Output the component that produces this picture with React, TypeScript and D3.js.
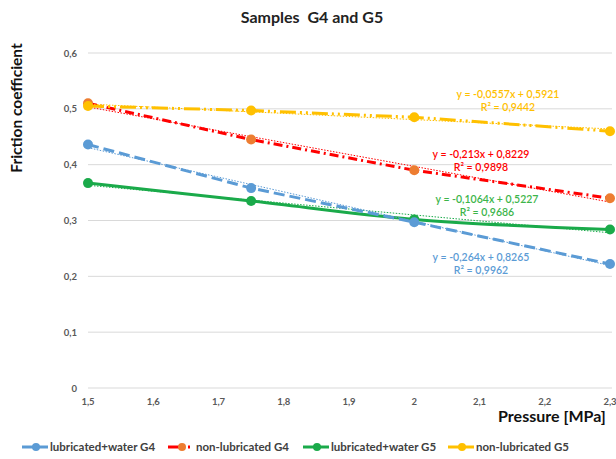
import React from "react";
import * as d3 from "d3";

const pressures = [1.5, 1.75, 2, 2.3];
const seriesNames = ["lubricated+water G4", "non-lubricated G4", "lubricated+water G5", "non-lubricated G5"];
const lubWaterG4 = [0.436, 0.358, 0.297, 0.222];
const nonLubG4 = [0.51, 0.445, 0.39, 0.34];
const lubWaterG5 = [0.367, 0.335, 0.302, 0.284];
const nonLubG5 = [0.505, 0.497, 0.485, 0.46];
const trendSlopes = [-0.264, -0.213, -0.1064, -0.0557];
const trendIntercepts = [0.8265, 0.8229, 0.5227, 0.5921];
const trendR2 = ["0,9962", "0,9898", "0,9686", "0,9442"];
const xTicks = [1.5, 1.6, 1.7, 1.8, 1.9, 2, 2.1, 2.2, 2.3];
const yTicks = [0, 0.1, 0.2, 0.3, 0.4, 0.5, 0.6];

const W = 616;
const H = 459;
const FONT = "Lato, 'Open Sans', sans-serif";

const lineColors = ["#5b9bd5", "#ff0000", "#1aaa4a", "#ffc000"];
const markerColors = ["#5b9bd5", "#ed7d31", "#1aaa4a", "#ffc000"];
const labelColors = ["#5b9bd5", "#ff0000", "#3cb54a", "#ffc000"];
const dashes = ["11 5", "9 4 2 4", "", "16 4 2 4 2 4"];
const labelPos = [
  { x: 481, y: 261 },
  { x: 481, y: 158 },
  { x: 487, y: 203 },
  { x: 508, y: 98 },
];
const legendX = [22, 168, 303, 448];

const fmt = (v: number) => String(v).replace(".", ",");

export default function App() {
  const x = d3.scaleLinear().domain([1.5, 2.3]).range([88, 610]);
  const y = d3.scaleLinear().domain([0, 0.6]).range([388, 53]);
  const data = [lubWaterG4, nonLubG4, lubWaterG5, nonLubG5];
  const straight = d3
    .line<number>()
    .x((_, i) => x(pressures[i]))
    .y((d) => y(d));
  const smooth = d3
    .line<number>()
    .x((_, i) => x(pressures[i]))
    .y((d) => y(d))
    .curve(d3.curveCatmullRom.alpha(0.5));

  const order = [2, 0, 1, 3];

  return (
    <div style={{ position: "absolute", left: 0, top: 0 }}>
      <svg width={W} height={H} style={{ display: "block", background: "#fff" }}>
        <text x={312} y={23} textAnchor="middle" fontFamily={FONT} fontWeight="bold" fontSize={16} fill="#222" style={{ whiteSpace: "pre" }}>
          {"Samples  G4 and G5"}
        </text>
        {yTicks.map((t) => (
          <g key={t}>
            <line x1={88} x2={612} y1={y(t)} y2={y(t)} stroke="#d9d9d9" strokeWidth={1} />
            <text x={77} y={y(t) + 3.5} textAnchor="end" fontFamily={FONT} fontWeight="bold" fontSize={9.5} fill="#595959">
              {fmt(t)}
            </text>
          </g>
        ))}
        {xTicks.map((t) => (
          <text key={t} x={x(t)} y={405} textAnchor="middle" fontFamily={FONT} fontWeight="bold" fontSize={9.5} fill="#595959">
            {fmt(t)}
          </text>
        ))}
        <text
          transform="translate(22,108) rotate(-90)"
          textAnchor="middle"
          fontFamily={FONT}
          fontWeight="bold"
          fontSize={15.5}
          fill="#111"
        >
          Friction coefficient
        </text>
        <text x={552} y={422} textAnchor="middle" fontFamily={FONT} fontWeight="bold" fontSize={16} fill="#111">
          Pressure [MPa]
        </text>

        {order.map((s) => (
          <g key={"s" + s}>
            <path
              d={(s === 2 ? smooth : straight)(data[s]) || ""}
              fill="none"
              stroke={lineColors[s]}
              strokeWidth={3}
              strokeDasharray={dashes[s] || undefined}
            />
            <line
              x1={x(1.5)}
              x2={x(2.3)}
              y1={y(trendSlopes[s] * 1.5 + trendIntercepts[s])}
              y2={y(trendSlopes[s] * 2.3 + trendIntercepts[s])}
              stroke={lineColors[s]}
              strokeWidth={1}
              strokeDasharray="1.5 1.5"
            />
            {data[s].map((v, i) => (
              <circle key={i} cx={x(pressures[i])} cy={y(v)} r={5} fill={markerColors[s]} />
            ))}
          </g>
        ))}

        {[0, 1, 2, 3].map((s) => (
          <g key={"l" + s} fontFamily={FONT} fontSize={10.5} fontWeight={600}>
            <text x={labelPos[s].x} y={labelPos[s].y} textAnchor="middle" fill={labelColors[s]}>
              {`y = ${fmt(trendSlopes[s])}x + ${fmt(trendIntercepts[s])}`}
            </text>
            <text x={labelPos[s].x} y={labelPos[s].y + 12.5} textAnchor="middle" fill={labelColors[s]}>
              R² = {trendR2[s]}
            </text>
          </g>
        ))}

        {[0, 1, 2, 3].map((s) => (
          <g key={"g" + s}>
            <line
              x1={legendX[s]}
              x2={legendX[s] + 26}
              y1={447}
              y2={447}
              stroke={lineColors[s]}
              strokeWidth={3}
              strokeDasharray={s === 0 ? "12 3 11" : s === 1 ? "12 8 2" : undefined}
            />
            <circle cx={legendX[s] + 14} cy={447} r={4} fill={markerColors[s]} />
            <text x={legendX[s] + 28} y={451} fontFamily={FONT} fontWeight="bold" fontSize={11.5} fill="#404040">
              {seriesNames[s]}
            </text>
          </g>
        ))}
      </svg>
    </div>
  );
}
